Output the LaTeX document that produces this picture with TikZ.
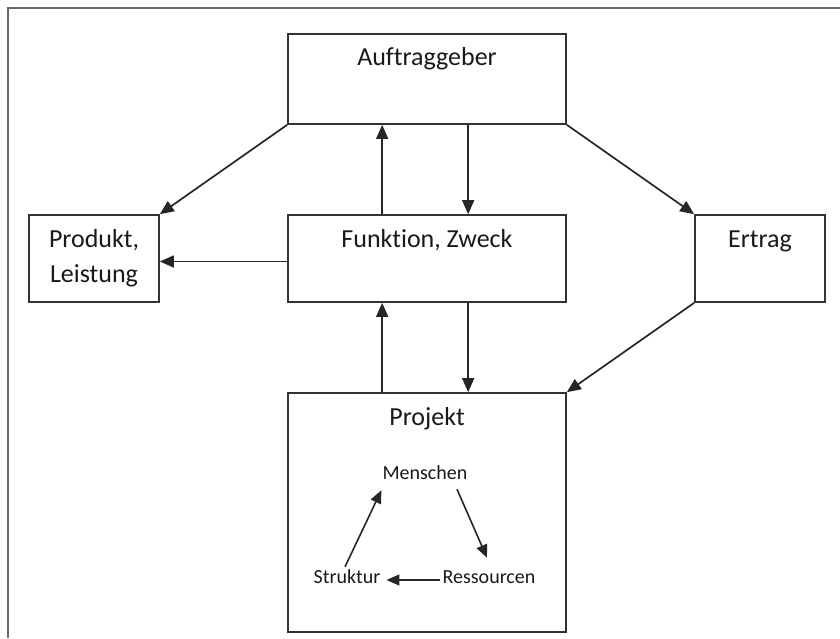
\documentclass[tikz,border=0pt]{standalone}
\usepackage{fontspec}
\setmainfont[Ligatures=NoCommon]{Carlito}
\usetikzlibrary{arrows.meta}
\begin{document}
\begin{tikzpicture}[x=1pt,y=-1pt,
  box/.style={draw=black!80, line width=1.7pt, inner sep=0pt},
  big/.style={font=\fontsize{26}{35}\selectfont, text=black!90, inner sep=0pt},
  small/.style={font=\fontsize{20}{24}\selectfont, text=black!90, inner sep=2pt,
                text height=14pt, text depth=5pt},
  flow/.style={line width=1.7pt, draw=black!85,
               -{Triangle[length=14pt,width=12pt]}},
  cyc/.style={line width=1.6pt, draw=black!85,
              -{Triangle[length=13pt,width=11pt]}}
]
\useasboundingbox (0,0) rectangle (840,638);

% outer frame
\draw[black!60, line width=1.4pt] (840,8) -- (8,8) -- (8,638);

% boxes
\node[box, minimum width=278pt, minimum height=90pt]  (auf)  at (427,79)    {};
\node[box, minimum width=278pt, minimum height=87pt]  (fun)  at (427,258.5) {};
\node[box, minimum width=130pt, minimum height=87pt]  (prod) at (94,258.5)  {};
\node[box, minimum width=130pt, minimum height=87pt]  (ert)  at (760,258.5) {};
\node[box, minimum width=278pt, minimum height=239pt] (proj) at (427,512.5) {};

% box titles
\node[big, anchor=base] (aufT)  at (427,65)  {Auftraggeber};
\node[big, anchor=base] (funT)  at (427,247) {Funktion, Zweck};
\node[big, anchor=base] (prodA) at (94,247)  {Produkt,};
\node[big, anchor=base] (prodB) at (94,282)  {Leistung};
\node[big, anchor=base] (ertT)  at (760,247) {Ertrag};
\node[big, anchor=base] (projT) at (427,425) {Projekt};

% connectors between the boxes
\draw[flow] (auf.south west) -- (prod.north east);
\draw[flow] (auf.south east) -- (ert.north west);
\draw[flow] ([xshift=95pt]fun.north west) -- ([xshift=95pt]auf.south west);
\draw[flow] ([xshift=181pt]auf.south west) -- ([xshift=181pt]fun.north west);
\draw[flow] ([yshift=-3pt]fun.west) -- ([yshift=-3pt]prod.east);
\draw[flow] ([xshift=95pt]proj.north west) -- ([xshift=95pt]fun.south west);
\draw[flow] ([xshift=181pt]fun.south west) -- ([xshift=181pt]proj.north west);
\draw[flow] (ert.south west) -- (proj.north east);

% cycle inside the project
\node[small, anchor=base] (men) at (425,479) {Menschen};
\node[small, anchor=base] (res) at (489,583) {Ressourcen};
\node[small, anchor=base] (str) at (347,583) {Struktur};

\draw[cyc] ([xshift=32pt,yshift=-3pt]men.south) -- ([xshift=-2pt,yshift=9pt]res.north);
\draw[cyc] ([yshift=-1.5pt]res.west) -- ([xshift=4pt,yshift=-1.5pt]str.east);
\draw[cyc] ([xshift=-2pt]str.north) -- ([xshift=1pt,yshift=-4pt]men.south west);
\end{tikzpicture}
\end{document}
